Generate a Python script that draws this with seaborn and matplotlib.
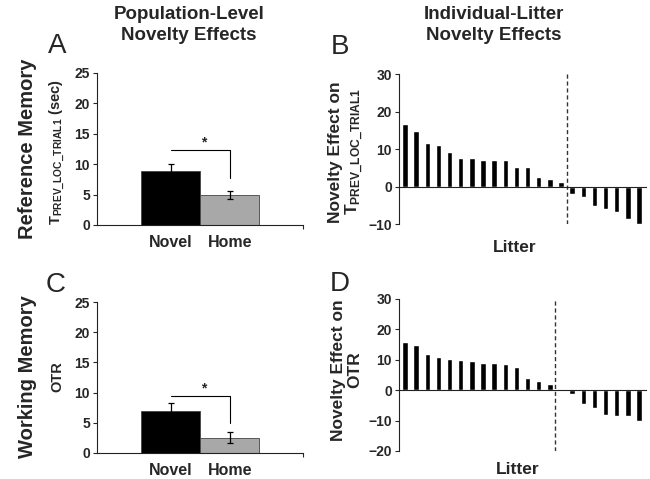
import matplotlib
matplotlib.use('Agg')
import matplotlib.pyplot as plt
import seaborn as sns
import pandas as pd

# population-level means (sec / OTR) with SEM
groups = ['Novel', 'Home']
ref_means = [8.8, 4.9]
ref_errs = [1.2, 0.7]
work_means = [6.9, 2.5]
work_errs = [1.3, 0.9]
# significance bracket: top height, drop to
ref_bracket = [12.4, 7.7]
work_bracket = [9.5, 4.9]

# individual-litter novelty effects, sorted
ref_litter = [16.7, 14.7, 11.6, 11.1, 9.1, 7.7, 7.6, 7.2, 7.1, 7.1, 5.1, 5.1, 2.6, 2.0, 1.1,
              -2.0, -2.7, -5.1, -5.9, -6.8, -8.7, -10.1]
work_litter = [15.8, 14.9, 11.9, 10.8, 10.4, 9.9, 9.5, 8.9, 8.9, 8.7, 7.6, 4.0, 3.1, 2.0,
               -0.3, -1.1, -4.6, -5.7, -8.2, -8.4, -8.6, -10.1]

sns.set_style('ticks')
plt.rcParams['font.family'] = ['Liberation Sans', 'DejaVu Sans']
plt.rcParams['font.weight'] = 'bold'
plt.rcParams['mathtext.fontset'] = 'custom'
plt.rcParams['mathtext.rm'] = 'Liberation Sans'
plt.rcParams['axes.linewidth'] = 0.8
plt.rcParams['axes.edgecolor'] = '#222222'

W, H = 650, 479
fig = plt.figure(figsize=(6.5, 4.79), dpi=100)


def box(l, r, top, bottom):
    return [l / W, 1 - bottom / H, (r - l) / W, (bottom - top) / H]


def pop_panel(ax, means, errs, bracket):
    df = pd.DataFrame({'group': groups, 'value': means})
    sns.barplot(data=df, x='group', y='value', hue='group', palette=['black', '#a8a8a8'],
                saturation=1, width=1.0, errorbar=None, legend=False,
                edgecolor='#444444', linewidth=0.6, ax=ax)
    ax.errorbar(range(len(groups)), means, yerr=errs, fmt='none', ecolor='black',
                elinewidth=0.9, capsize=2.5, capthick=0.9)
    ax.plot([0, 1, 1], [bracket[0], bracket[0], bracket[1]], color='black', lw=0.8)
    ax.text(0.55, bracket[0], '*', ha='center', va='bottom', fontsize=10)
    ax.set_xlim(-1.25, 2.24)
    ax.set_ylim(0, 25)
    ax.set_yticks(range(0, 26, 5))
    sns.despine(ax=ax)
    ax.set_xlabel('')
    ax.set_ylabel('')
    ax.tick_params(axis='x', which='major', length=0, labelsize=11.5, pad=7)
    ax.tick_params(axis='y', labelsize=10, length=3, width=0.8, pad=2)
    ax.set_xticks([2.24], minor=True)
    ax.tick_params(axis='x', which='minor', length=3, width=0.8)


def litter_panel(ax, vals, ylim, yticks):
    df = pd.DataFrame({'litter': range(len(vals)), 'effect': vals})
    sns.barplot(data=df, x='litter', y='effect', color='black', saturation=1,
                width=0.48, errorbar=None, ax=ax)
    n_pos = sum(v > 0 for v in vals)
    ax.axvline(n_pos - 0.5, color='#333333', ls=(0, (3, 2)), lw=1)
    ax.set_xlim(-0.54, len(vals) - 1 + 0.63)
    ax.set_ylim(*ylim)
    ax.set_yticks(yticks)
    ax.spines['bottom'].set_position(('data', 0))
    ax.spines[['top', 'right']].set_visible(False)
    ax.set_xticks([])
    ax.set_xlabel('')
    ax.set_ylabel('')
    ax.tick_params(axis='y', labelsize=10, length=3, width=0.8, pad=2)


axA = fig.add_axes(box(97, 303, 73, 225))
pop_panel(axA, ref_means, ref_errs, ref_bracket)
axC = fig.add_axes(box(97, 303, 302, 453))
pop_panel(axC, work_means, work_errs, work_bracket)

axB = fig.add_axes(box(399, 646, 74, 224))
litter_panel(axB, ref_litter, (-10, 30), [-10, 0, 10, 20, 30])
axD = fig.add_axes(box(399, 646, 299, 451))
litter_panel(axD, work_litter, (-20, 30), [-20, -10, 0, 10, 20, 30])

# column titles
fig.text(0.291, 0.948, 'Population-Level\nNovelty Effects', ha='center', va='center',
         fontsize=13.5, linespacing=1.3)
fig.text(0.760, 0.948, 'Individual-Litter\nNovelty Effects', ha='center', va='center',
         fontsize=13.5, linespacing=1.3)

# row labels
fig.text(0.042, 0.69, 'Reference Memory', rotation=90, ha='center', va='center', fontsize=14.5)
fig.text(0.042, 0.213, 'Working Memory', rotation=90, ha='center', va='center', fontsize=14.5)

# panel letters
for x, y, s in [(0.088, 0.905, 'A'), (0.523, 0.902, 'B'), (0.085, 0.405, 'C'), (0.522, 0.407, 'D')]:
    fig.text(x, y, s, ha='center', va='center', fontsize=20, fontweight='normal')

# y labels
fig.text(0.088, 0.683, r'T$_{\rm PREV\_LOC\_TRIAL1}$ (sec)', rotation=90,
         ha='center', va='center', fontsize=10.5)
fig.text(0.088, 0.213, 'OTR', rotation=90, ha='center', va='center', fontsize=10.5)
fig.text(0.534, 0.683, 'Novelty Effect on\nT$_{\\rm PREV\\_LOC\\_TRIAL1}$', rotation=90,
         ha='center', va='center', fontsize=12.5, linespacing=1.1)
fig.text(0.534, 0.228, 'Novelty Effect on\nOTR', rotation=90,
         ha='center', va='center', fontsize=12.5, linespacing=1.1)

# x labels of litter panels
fig.text(0.792, 0.484, 'Litter', ha='center', va='center', fontsize=12.5)
fig.text(0.797, 0.019, 'Litter', ha='center', va='center', fontsize=12.5)

fig.savefig('out.png', dpi=100)
